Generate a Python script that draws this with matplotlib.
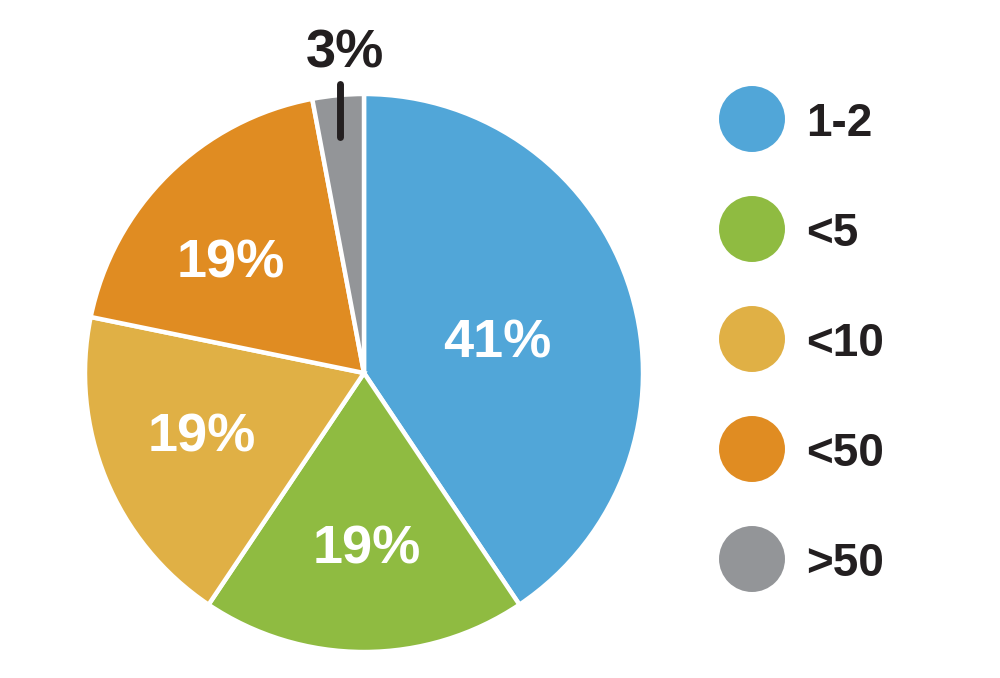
import numpy as np
import matplotlib
matplotlib.use("Agg")
import matplotlib.pyplot as plt

categories = ["1-2", "<5", "<10", "<50", ">50"]
values = [41, 19, 19, 19, 3]
labels = ["41%", "19%", "19%", "19%", "3%"]
colors = ["#51A6D8", "#8FBB41", "#E0B045", "#E08C22", "#939598"]

plt.rcParams['font.family'] = ['Liberation Sans', 'DejaVu Sans']
dark = "#231F20"

fig = plt.figure(figsize=(10, 6.78), dpi=100)
W, H = 1000, 678
cx, cy, R = 364, 373, 279
ax = fig.add_axes([(cx - R) / W, (H - cy - R) / H, 2 * R / W, 2 * R / H])
wedges, _ = ax.pie(values, colors=colors, startangle=90, counterclock=False,
                   radius=1, wedgeprops=dict(edgecolor="white", linewidth=3.2))
ax.set_xlim(-1, 1)
ax.set_ylim(-1, 1)
ax.set_aspect('auto')
ax.axis('off')

# label placement: (distance from centre, angular offset in degrees)
placement = [(0.493, -2.2), (0.613, 1.0), (0.618, -2.3), (0.630, 4.6), None]
for w, lab, p in zip(wedges, labels, placement):
    mid = (w.theta1 + w.theta2) / 2
    if p is not None:
        d, off = p
        ang = np.deg2rad(mid + off)
        ax.text(d * np.cos(ang), d * np.sin(ang), lab, ha='center', va='center_baseline',
                color='white', fontsize=39, fontweight='bold')
    else:
        ang = np.deg2rad(mid)
        lx = 0.94 * np.cos(ang)
        ax.plot([lx, lx], [0.845, 1.035], color=dark, lw=5,
                solid_capstyle='round', clip_on=False)
        ax.text(lx + 0.02, 1.165, lab, ha='center',
                va='center_baseline', color=dark, fontsize=39, fontweight='bold',
                clip_on=False)

# legend
lx0, ltop, lbot = 700, 64, 614
lax = fig.add_axes([lx0 / W, (H - lbot) / H, 0.3, (lbot - ltop) / H])
lax.set_xlim(0, 300)
lax.set_ylim(len(categories) - 0.5, -0.5)
lax.axis('off')
rows = np.arange(len(categories))
lax.scatter(np.full(len(rows), 52), rows, s=47.5 ** 2, c=colors, linewidths=0)
for r, cat in zip(rows, categories):
    lax.text(106, r, cat, ha='left', va='center_baseline', color=dark,
             fontsize=33, fontweight='bold')

fig.savefig("out.png", dpi=100)
